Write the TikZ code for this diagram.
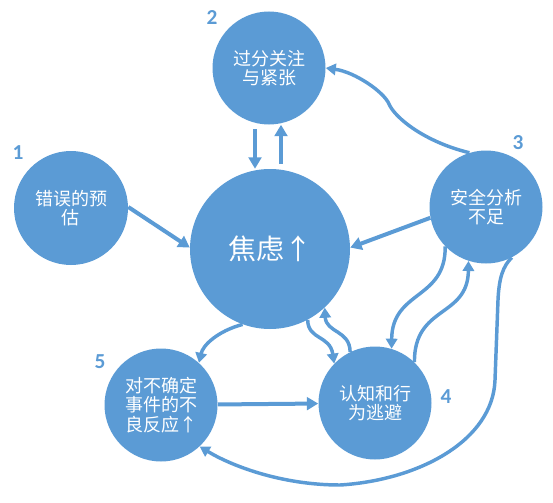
\documentclass[tikz,border=0pt]{standalone}
\usepackage{fontspec}
\setmainfont{Carlito}
\newfontfamily\cjk{Noto Sans CJK SC}
\usetikzlibrary{arrows.meta}
\definecolor{cblue}{HTML}{5B9BD5}
\begin{document}
\begin{tikzpicture}[x=0.75pt,y=-0.75pt,
  bub/.style={circle,fill=cblue,inner sep=0pt,minimum size=84.75pt,text=white,
    font=\cjk\fontsize{13.5}{14.5}\selectfont,align=center},
  num/.style={text=cblue,inner sep=0pt,font=\bfseries\fontsize{16}{18}\selectfont},
  con/.style={draw=cblue,line width=3pt,-{Triangle[length=8.5pt,width=9.5pt]}},
  wig/.style={draw=cblue,line width=2.6pt,-{Triangle[length=7.5pt,width=8.5pt]}}]
\useasboundingbox (0,0) rectangle (553,503);
% circles
\node[bub,minimum size=85.5pt] (c1) at (71,208) {错误的预\\估};
\node[bub] (c2) at (269,68) {过分关注\\与紧张};
\node[bub,minimum size=120pt,font=\cjk\fontsize{21}{24}\selectfont] (c0) at (270,249) {焦虑↑};
\node[bub] (c3) at (486,207) {安全分析\\不足};
\node[bub] (c5) at (161,405) {对不确定\\事件的不\\良反应↑};
\node[bub] (c4) at (375,403) {认知和行\\为逃避};
% numbers
\node[num] (n1) at (18,153) {1};
\node[num] (n2) at (212,18) {2};
\node[num] (n3) at (518,143) {3};
\node[num] (n4) at (446,397) {4};
\node[num] (n5) at (100,362) {5};
% straight connectors
\draw[con] (c1.1) -- (c0.179);
\draw[con,shorten <=3.5pt] ([xshift=-10.5pt]c2.south) -- ([xshift=-11.25pt]c0.north);
\draw[con,shorten <=3.75pt] ([xshift=8.25pt]c0.north) -- ([xshift=9pt]c2.south);
\draw[con] (c3.191) -- (c0.1);
\draw[con] (c5) -- (c4);
% curved connectors
\draw[wig] (c3.107) .. controls (425,142) and (395,118) .. (389,104)
  .. controls (384,92) and (355,72) .. (c2.0);
\draw[wig] (c0.250) .. controls (218,331) and (203,345) .. (c5.48);
\draw[wig] (c0.298) .. controls (308,340) and (330,335) .. (c4.136);
\draw[wig] (c4.116) .. controls (350,330) and (326,333) .. (c0.313);
\draw[wig] (c3.224) .. controls (446,300) and (392,290) .. (c4.73);
\draw[wig] (c4.46) .. controls (414,305) and (468,318) .. (c3.252);
\draw[wig] (c3.297) .. controls (503,266) and (499,278) .. (498,300)
  -- (495,380) .. controls (493,440) and (420,480) .. (340,485)
  .. controls (280,485) and (230,465) .. (c5.313);
\end{tikzpicture}
\end{document}
